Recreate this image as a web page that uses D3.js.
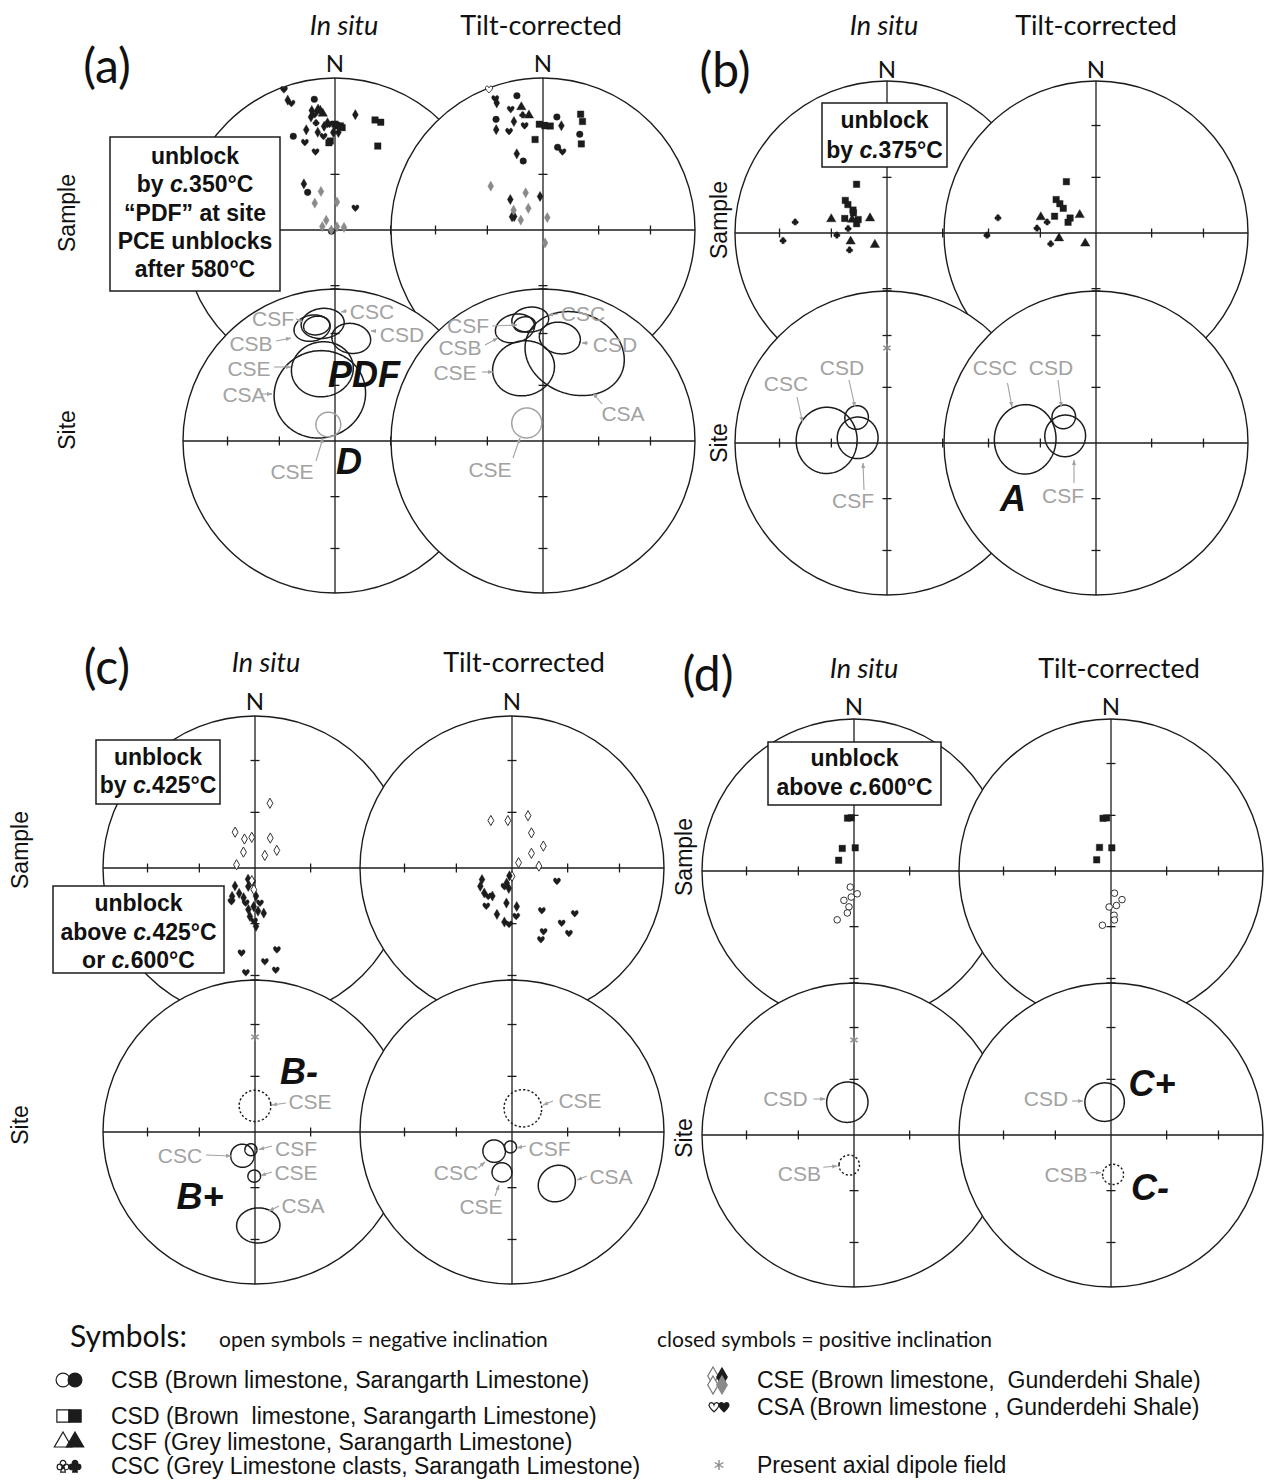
<!DOCTYPE html>
<html>
<head>
<meta charset="utf-8">
<script src="https://cdn.jsdelivr.net/npm/d3@7"></script>
<style>
  body { margin: 0; background: #fff; }
  svg { display: block; }
  text { white-space: pre; }
</style>
</head>
<body>
<svg id="fig" width="1271" height="1481"></svg>
<script>
// ---------------------------------------------------------------------------
// Palaeomagnetic directions, equal-area projections (lower/upper hemisphere
// folded together: open symbols = negative inclination).
// Sample rows: [collection, declination, inclination, tone]  ("g" = grey)
// Site rows:   [collection, declination, inclination, alpha95, tone]
// ---------------------------------------------------------------------------

const collections = ["CSB", "CSD", "CSF", "CSC", "CSE", "CSA"];
const columnTitles = ["In situ", "Tilt-corrected"];
const rowTitles = ["Sample", "Site"];
const panelTags = ["(a)", "(b)", "(c)", "(d)"];
const tickInclinations = [30, 60];
const gadDirection = [0, 37.5];   // present axial dipole field

// ---- panel (a) ----
const sampleA_insitu = [
  ["CSA",340,2],["CSE",340,10],["CSA",341,13],["CSB",351,14],["CSE",349,21],["CSF",352,21],
  ["CSF",353,22],["CSF",354,24],["CSA",350,24],["CSE",348,25],["CSC",350,29],["CSE",356,30],
  ["CSA",357,31],["CSE",354,32],["CSD",0,31],["CSD",1,32],["CSD",3,32],["CSD",4,33],
  ["CSE",359,36],["CSE",2,36],["CSE",350,35],["CSA",353,38],["CSD",357,41],["CSD",356,42],
  ["CSE",344,32],["CSA",341,39],["CSB",336,33],["CSA",346,46],["CSE",10,24],["CSD",20,24],
  ["CSD",23,24],["CSD",27,38],["CSE",326,60],["CSB",324,65],["CSA",43,74],["CSB",250,88],
  ["CSE",340,68,"g"],["CSE",323,72,"g"],["CSE",4,75,"g"],["CSE",318,83,"g"],["CSE",285,83,"g"],
  ["CSE",270,88,"g"],["CSE",31,88,"g"],["CSE",74,85,"g"]
];
const sampleA_tilt = [
  ["CSA",339,-1],["CSA",340,9],["CSE",340,12],["CSB",349,11],["CSA",345,19],["CSF",350,19],
  ["CSC",350,24],["CSF",353,25],["CSE",345,27],["CSA",350,31],["CSB",337,22],["CSE",335,28],
  ["CSA",341,32],["CSD",358,31],["CSD",1,32],["CSD",4,32],["CSB",7,26],["CSE",10,31],
  ["CSD",355,40],["CSD",18,21],["CSD",20,25],["CSB",21,33],["CSD",24,38],["CSB",10,44],
  ["CSA",14,46],["CSE",341,46],["CSB",344,51],["CSE",313,66],["CSE",295,73],["CSE",293,72],
  ["CSE",355,72],
  ["CSE",310,53,"g"],["CSE",335,68,"g"],["CSE",326,76,"g"],["CSE",304,71,"g"],["CSE",294,77,"g"],
  ["CSE",19,83,"g"],["CSE",171,83,"g"]
];
const siteA_insitu = [
  ["CSA",342,63,24],["CSE",350,50,15.6],["CSB",348.5,25,8.2],["CSC",354,23,9.6],
  ["CSF",351,24,5.9],["CSD",9,32,9.1],["CSE",338,80.5,6.6,"g"]
];
const siteA_tilt = [
  ["CSA",20,37.4,24.4],["CSE",345,48.6,15.6],["CSB",346,24.4,8.9],["CSC",354,20.6,8.1],
  ["CSF",351,23.3,4.8],["CSD",9.3,31.7,9.6],["CSE",318,77,8,"g"]
];

// ---- panel (b) ----
const sampleB_insitu = [
  ["CSD",328,59],["CSD",308,61.5],["CSD",306,64],["CSD",304,68],["CSD",301,69],["CSD",289,66],
  ["CSD",295,73],["CSD",287,73],
  ["CSF",284,59],["CSF",311,78],["CSF",291,70],["CSF",257,70],["CSF",226,81],
  ["CSC",277,69],["CSC",268,63],["CSC",246,68],["CSC",277,39],["CSC",266,32]
];
const sampleB_tilt = [
  ["CSD",330,58],["CSD",310,62],["CSD",309,65],["CSD",307,68],["CSD",292,66],["CSD",300,74],
  ["CSD",291,74],
  ["CSF",318,77],["CSF",286,59],["CSF",262,70],["CSF",226,82],
  ["CSC",283,63],["CSC",275,58],["CSC",257,65],["CSC",279,35],["CSC",269,29]
];
const siteB_insitu = [["CSC",272.5,57,17],["CSD",310,68.7,6.3],["CSF",280,74,11]];
const siteB_tilt = [["CSC",273,51,17.5],["CSD",309,67.7,6.3],["CSF",283,73,11]];

// ---- panel (c) ----
const sampleC_insitu = [
  ["CSE",13,-54],["CSE",331,-68],["CSE",340,-73.5],["CSE",354,-73.5],["CSE",324,-79.5],
  ["CSE",280,-80],["CSE",27,-72],["CSE",38,-81.5],["CSE",51,-75],
  ["CSE",228,75.6],["CSE",219,70.5],["CSA",215,68],["CSE",212,74],["CSE",201,73],["CSA",195,70.6],
  ["CSE",189,67.4],["CSE",182,69.3],["CSE",178,75],["CSE",183,-78.4],["CSA",192,82],["CSE",200,79.5],
  ["CSA",172,71],["CSE",176,66.8],["CSE",169,65.3],["CSA",181,61.3],["CSE",179,58.5],["CSE",186,63.8],
  ["CSE",212,83],["CSE",194,-83],
  ["CSA",165,43.6],["CSA",189,42.8],["CSA",174,38],["CSA",168.5,32],["CSA",185,31.5]
];
const sampleC_tilt = [
  ["CSE",336,-62],["CSE",355,-64.4],["CSE",17,-60.5],["CSE",29,-68.5],["CSE",55,-69.5],
  ["CSE",53,-77],["CSE",51,-85.5],["CSE",86,-75.6],["CSE",180,-85.6],
  ["CSE",249,72.8],["CSE",240,70.4],["CSE",228,70],["CSA",220,70.2],["CSE",215,71.7],["CSA",214,65.3],
  ["CSE",198,63.8],["CSE",188,60.6],["CSA",183,59.6],["CSE",199.5,81.5],["CSE",189,79],["CSA",202,79.3],
  ["CSE",198,85.6],["CSE",189,71],["CSE",173,69.2],["CSA",175,63.9],
  ["CSA",106.5,64.8],["CSA",145,62],["CSA",126,47.7],["CSA",138,49.6],["CSA",153.6,51.4],
  ["CSA",139,42.4],["CSA",158,47.9]
];
const siteC_insitu = [
  ["CSE",0,-76,8.4],["CSF",193,80.3,3.2],["CSC",208,75.6,6.2],["CSE",181,66.3,3.3],["CSA",178,38.2,10.4]
];
const siteC_tilt = [
  ["CSE",24.6,-76,10],["CSF",186,82,3.2],["CSC",223,76,6],["CSE",194,67.7,5.2],["CSA",139,52.8,9.8]
];

// ---- panel (d) ----
const sampleD_insitu = [
  ["CSD",353,61.3],["CSD",357,61.3],["CSD",332.5,76.4],["CSD",3,77.6],["CSD",305,80],
  ["CSB",193,-81.2],["CSB",172,-77.7],["CSB",186,-76],["CSB",199,-73.4],["CSB",188,-70.6],
  ["CSB",189,-67.2],["CSB",199,-62.2]
];
const sampleD_tilt = [
  ["CSD",351.4,61.3],["CSD",355.3,61.3],["CSD",334,76],["CSD",2,77.6],["CSD",308,80.3],
  ["CSB",171,-78],["CSB",159,-73.6],["CSB",171,-71.3],["CSB",183,-70.7],["CSB",176,-66.2],
  ["CSB",176,-63.6],["CSB",189,-60.4]
];
const siteD_insitu = [["CSD",348.5,72,10.9],["CSB",189,-73.7,5.4]];
const siteD_tilt = [["CSD",349,72,10.4],["CSB",177,-68.8,5.5]];

// ---- legend ----
const legendLeft = [
  ["CSB", "CSB (Brown limestone, Sarangarth Limestone)"],
  ["CSD", "CSD (Brown  limestone, Sarangarth Limestone)"],
  ["CSF", "CSF (Grey limestone, Sarangarth Limestone)"],
  ["CSC", "CSC (Grey Limestone clasts, Sarangath Limestone)"]
];
const legendRight = [
  ["CSE", "CSE (Brown limestone,  Gunderdehi Shale)"],
  ["CSA", "CSA (Brown limestone , Gunderdehi Shale)"]
];
const legendNotes = ["Symbols:", "open symbols = negative inclination", "closed symbols = positive inclination", "Present axial dipole field"];

// ---------------------------------------------------------------------------
// Layout
// ---------------------------------------------------------------------------
const R = 152;
const INK = "#1c1c1c";
const GREY_TXT = "#a2a2a2";
const GREY_PT = "#8a8a8a";
const TITLE_FONT = "Lato, 'Open Sans', sans-serif";
const ARIAL = "'Liberation Sans', Arial, sans-serif";

const panels = [
  { tag: [107, 64], headY: 24, headX: [344, 541], nY: 62, cx: [335, 543], cy: [230, 441],
    rowX: 67, rowY: [213, 430],
    samples: [sampleA_insitu, sampleA_tilt], sites: [siteA_insitu, siteA_tilt], gad: false,
    notes: [
      [["CSF",-62,-123,-39,-122,-32,-119],["CSB",-84,-98,-59,-100,-44,-103],["CSC",37,-130,12,-130,6,-129],
       ["CSD",67,-107,41,-110,36,-110],["CSE",-86,-73,-61,-74,-44,-74],["CSA",-91,-47,-73,-47,-63,-47],
       ["CSE",-43,30,-19,20,-12,-3]],
      [["CSF",-75,-116,-51,-115,-26,-116],["CSB",-83,-94,-58,-96,-45,-103],["CSE",-88,-69,-61,-69,-50,-69],
       ["CSC",40,-128,15,-127,5,-126],["CSD",72,-97,45,-98,39,-98],["CSA",80,-28,59,-37,50,-48],
       ["CSE",-53,28,-30,17,-23,-3]]
    ],
    big: [[["PDF",29,-67],["D",14,20]], []] },
  { tag: [725, 68], headY: 24, headX: [884, 1096], nY: 68, cx: [887, 1096], cy: [233, 443],
    rowX: 719, rowY: [220, 443],
    samples: [sampleB_insitu, sampleB_tilt], sites: [siteB_insitu, siteB_tilt], gad: true,
    notes: [
      [["CSD",-45,-76,-38,-63,-32,-36],["CSC",-101,-60,-90,-46,-84.5,-21],["CSF",-34,57,-23,47,-24,20]],
      [["CSC",-101,-76,-88.5,-60,-84,-36],["CSD",-45,-76,-38,-63,-34.5,-36],["CSF",-33,52,-22,40,-22,17]]
    ],
    big: [[], [["A",-83,55]]] },
  { tag: [107, 665], headY: 661, headX: [266, 524], nY: 700, cx: [255, 512], cy: [868, 1132],
    rowX: 20, rowY: [850, 1125],
    samples: [sampleC_insitu, sampleC_tilt], sites: [siteC_insitu, siteC_tilt], gad: true,
    notes: [
      [["CSE",55,-31,31,-29,17,-27],["CSC",-75,23,-49,23,-24,24],["CSF",41,16,17,14,4,17.5],
       ["CSE",41,40,17,40,6,43.5],["CSA",48,73,24,74,14,79]],
      [["CSE",68,-32,41,-31,31,-27],["CSF",37.5,16,14,14,5,16],["CSC",-56,40,-34,36,-27,30],
       ["CSE",-31,74,-17,64,-13,53],["CSA",99,44,75,44,65,48]]
    ],
    big: [[["B-",44,-61],["B+",-55,64]], []] },
  { tag: [708, 672], headY: 667, headX: [864, 1119], nY: 705, cx: [854, 1111], cy: [871, 1135],
    rowX: 684, rowY: [857, 1138],
    samples: [sampleD_insitu, sampleD_tilt], sites: [siteD_insitu, siteD_tilt], gad: true,
    notes: [
      [["CSD",-68.5,-37,-40.6,-36,-28.7,-36],["CSB",-54.6,38,-30.7,32.3,-16.7,31]],
      [["CSD",-65,-37,-39,-34,-28.3,-34],["CSB",-45,39,-21,37.7,-10,37.7]]
    ],
    big: [[], [["C+",41,-52],["C-",39,52]]] }
];

const boxes = [
  { x: 110, y: 137, w: 170, h: 154, top: 19, step: 28.3,
    lines: ["unblock", "by |c.|350°C", "“PDF” at site", "PCE unblocks", "after 580°C"] },
  { x: 822, y: 103, w: 125, h: 64, top: 17, step: 30, lines: ["unblock", "by |c.|375°C"] },
  { x: 96, y: 740, w: 124, h: 64, top: 17, step: 28, lines: ["unblock", "by |c.|425°C"] },
  { x: 53, y: 886, w: 171, h: 87, top: 17, step: 28.5, lines: ["unblock", "above |c.|425°C", "or |c.|600°C"] },
  { x: 768, y: 742, w: 173, h: 63, top: 16, step: 29, lines: ["unblock", "above |c.|600°C"] }
];

// ---------------------------------------------------------------------------
// Symbols
// ---------------------------------------------------------------------------
const symbolHeart = {
  draw(ctx, size) {
    const s = Math.sqrt(size) * 0.55;
    ctx.moveTo(0, s);
    ctx.bezierCurveTo(-s * 0.35, s * 0.6, -s * 1.1, 0, -s * 1.0, -s * 0.45);
    ctx.bezierCurveTo(-s * 0.9, -s * 1.1, -s * 0.15, -s * 1.0, 0, -s * 0.45);
    ctx.bezierCurveTo(s * 0.15, -s * 1.0, s * 0.9, -s * 1.1, s * 1.0, -s * 0.45);
    ctx.bezierCurveTo(s * 1.1, 0, s * 0.35, s * 0.6, 0, s);
    ctx.closePath();
  }
};
const symbolClub = {
  draw(ctx, size) {
    const s = Math.sqrt(size) * 0.5, r = s * 0.46;
    [[0, -s * 0.45], [-s * 0.5, s * 0.15], [s * 0.5, s * 0.15]].forEach(([x, y]) => {
      ctx.moveTo(x + r, y);
      ctx.arc(x, y, r, 0, 2 * Math.PI);
    });
    ctx.moveTo(-s * 0.15, 0);
    ctx.lineTo(s * 0.15, 0);
    ctx.lineTo(s * 0.38, s);
    ctx.lineTo(-s * 0.38, s);
    ctx.closePath();
  }
};
const SHAPE = { CSB: d3.symbolCircle, CSD: d3.symbolSquare, CSF: d3.symbolTriangle,
                CSC: symbolClub, CSE: d3.symbolDiamond, CSA: symbolHeart };
const SIZE = { CSB: 34, CSD: 42, CSF: 38, CSC: 46, CSE: 30, CSA: 42 };
const asteriskType = d3.symbolAsterisk || d3.symbolCross;

// ---------------------------------------------------------------------------
// Drawing
// ---------------------------------------------------------------------------
const svg = d3.select("#fig");
svg.append("rect").attr("width", 1271).attr("height", 1481).attr("fill", "#fff");
svg.append("defs").append("marker")
  .attr("id", "arr").attr("viewBox", "0 0 8 8").attr("refX", 7.5).attr("refY", 4)
  .attr("markerWidth", 5).attr("markerHeight", 5).attr("orient", "auto")
  .append("path").attr("d", "M0,1 L8,4 L0,7 Z").attr("fill", GREY_TXT);

const lonOf = dec => 180 - dec;   // N up, declination clockwise
function makeProjection(cx, cy) {
  return d3.geoAzimuthalEqualArea()
    .rotate([0, -90])
    .scale(R / Math.SQRT2)
    .translate([cx, cy])
    .precision(0.05);
}

function drawNet(g, cx, cy, isSite) {
  const proj = makeProjection(cx, cy);
  g.append("circle").attr("cx", cx).attr("cy", cy).attr("r", R)
    .attr("fill", "#fff").attr("stroke", INK).attr("stroke-width", 1.4);
  [[0, 180], [270, 90]].forEach(([d1, d2]) => {
    const p1 = proj([lonOf(d1), 0]), p2 = proj([lonOf(d2), 0]);
    g.append("line").attr("x1", p1[0]).attr("y1", p1[1]).attr("x2", p2[0]).attr("y2", p2[1])
      .attr("stroke", INK).attr("stroke-width", 1.3);
  });
  const ticks = [];
  [0, 90, 180, 270].forEach(dec => tickInclinations.forEach(inc => ticks.push([dec, inc])));
  if (isSite) ticks.push([0, 0.01]);
  const TL = 4.5;
  g.selectAll(null).data(ticks).join("line")
    .each(function ([dec, inc]) {
      const [x, y] = proj([lonOf(dec), inc]);
      const horiz = dec % 180 === 0;
      d3.select(this)
        .attr("x1", horiz ? x - TL : x).attr("x2", horiz ? x + TL : x)
        .attr("y1", horiz ? y : y - TL).attr("y2", horiz ? y : y + TL);
    })
    .attr("stroke", INK).attr("stroke-width", 1.3);
  return proj;
}

function drawSamples(g, proj, rows) {
  g.selectAll(null).data(rows).join("path")
    .attr("transform", d => {
      const [x, y] = proj([lonOf(d[1]), Math.abs(d[2])]);
      return `translate(${x},${y})`;
    })
    .attr("d", d => d3.symbol(SHAPE[d[0]], SIZE[d[0]])())
    .attr("fill", d => d[3] === "g" ? GREY_PT : (d[2] < 0 ? "#fff" : INK))
    .attr("stroke", d => d[3] === "g" ? GREY_PT : INK)
    .attr("stroke-width", d => d[2] < 0 ? 0.9 : 0.4);
}

function drawCones(g, proj, rows) {
  const path = d3.geoPath(proj);
  g.selectAll(null).data(rows).join("path")
    .attr("d", d => path(d3.geoCircle().center([lonOf(d[1]), Math.abs(d[2])]).radius(d[3]).precision(2)()))
    .attr("fill", "none")
    .attr("stroke", d => d[4] === "g" ? GREY_TXT : INK)
    .attr("stroke-width", 1.5)
    .attr("stroke-dasharray", d => d[2] < 0 ? "2.2,2.2" : null);
}

function drawGad(g, proj) {
  const [x, y] = proj([lonOf(gadDirection[0]), gadDirection[1]]);
  g.append("path").attr("transform", `translate(${x},${y})`)
    .attr("d", d3.symbol(asteriskType, 50)())
    .attr("fill", "none").attr("stroke", GREY_PT).attr("stroke-width", 1.4);
}

function drawNotes(g, cx, cy, notes, big) {
  notes.forEach(([t, tx, ty, x1, y1, x2, y2]) => {
    g.append("line").attr("x1", cx + x1).attr("y1", cy + y1).attr("x2", cx + x2).attr("y2", cy + y2)
      .attr("stroke", GREY_TXT).attr("stroke-width", 1.1).attr("marker-end", "url(#arr)");
    g.append("text").attr("x", cx + tx).attr("y", cy + ty)
      .attr("text-anchor", "middle").attr("dominant-baseline", "central")
      .attr("font-family", ARIAL).attr("font-size", 21).attr("fill", GREY_TXT).text(t);
  });
  big.forEach(([t, tx, ty]) => {
    g.append("text").attr("x", cx + tx).attr("y", cy + ty)
      .attr("text-anchor", "middle").attr("dominant-baseline", "central")
      .attr("font-family", ARIAL).attr("font-size", 36).attr("font-weight", "bold")
      .attr("font-style", "italic").attr("fill", "#111").text(t);
  });
}

panels.forEach((p, pi) => {
  const pg = svg.append("g");
  // sample row, then site row; tilt-corrected net over the in situ net
  p.cx.forEach((cx, i) => {
    const g = pg.append("g");
    const proj = drawNet(g, cx, p.cy[0], false);
    drawSamples(g, proj, p.samples[i]);
  });
  p.cx.forEach((cx, i) => {
    const g = pg.append("g");
    const proj = drawNet(g, cx, p.cy[1], true);
    if (i === 0 && p.gad) drawGad(g, proj);
    drawCones(g, proj, p.sites[i]);
  });
  p.cx.forEach((cx, i) => drawNotes(pg.append("g"), cx, p.cy[1], p.notes[i], p.big[i]));

  // titles
  pg.append("text").attr("x", p.tag[0]).attr("y", p.tag[1])
    .attr("text-anchor", "middle").attr("dominant-baseline", "central")
    .attr("font-family", TITLE_FONT).attr("font-size", 48).attr("fill", "#111").text(panelTags[pi]);
  columnTitles.forEach((t, i) => {
    pg.append("text").attr("x", p.headX[i]).attr("y", p.headY)
      .attr("text-anchor", "middle").attr("dominant-baseline", "central")
      .attr("font-family", TITLE_FONT).attr("font-size", 27)
      .attr("font-style", i === 0 ? "italic" : "normal").attr("fill", "#111").text(t);
    pg.append("text").attr("x", p.cx[i]).attr("y", p.nY)
      .attr("text-anchor", "middle").attr("dominant-baseline", "central")
      .attr("font-family", TITLE_FONT).attr("font-size", 24).attr("fill", "#111").text("N");
  });
  rowTitles.forEach((t, i) => {
    pg.append("text").attr("transform", `translate(${p.rowX},${p.rowY[i]}) rotate(-90)`)
      .attr("text-anchor", "middle").attr("dominant-baseline", "central")
      .attr("font-family", ARIAL).attr("font-size", 23).attr("fill", "#111").text(t);
  });
});

// annotation boxes
boxes.forEach(b => {
  const g = svg.append("g");
  g.append("rect").attr("x", b.x).attr("y", b.y).attr("width", b.w).attr("height", b.h)
    .attr("fill", "#fff").attr("stroke", INK).attr("stroke-width", 1.5);
  b.lines.forEach((ln, i) => {
    const t = g.append("text").attr("x", b.x + b.w / 2).attr("y", b.y + b.top + i * b.step)
      .attr("text-anchor", "middle").attr("dominant-baseline", "central")
      .attr("font-family", ARIAL).attr("font-size", 23).attr("font-weight", "bold").attr("fill", "#111");
    ln.split("|").forEach((seg, k) => t.append("tspan").attr("font-style", k % 2 ? "italic" : "normal").text(seg));
  });
});

// ---------------------------------------------------------------------------
// Legend
// ---------------------------------------------------------------------------
const lg = svg.append("g");
lg.append("text").attr("x", 70).attr("y", 1347).attr("font-family", TITLE_FONT)
  .attr("font-size", 30).attr("fill", "#111").text(legendNotes[0]);
lg.append("text").attr("x", 219).attr("y", 1347).attr("font-family", TITLE_FONT)
  .attr("font-size", 21).attr("fill", "#111").text(legendNotes[1]);
lg.append("text").attr("x", 657).attr("y", 1347).attr("font-family", TITLE_FONT)
  .attr("font-size", 21).attr("fill", "#111").text(legendNotes[2]);

function legendGlyph(g, x, y, code, fill, stroke, size) {
  g.append("path").attr("transform", `translate(${x},${y})`)
    .attr("d", d3.symbol(SHAPE[code], size)())
    .attr("fill", fill).attr("stroke", stroke).attr("stroke-width", 1.2);
}
const leftRowsY = [1380, 1416, 1442, 1466];
legendLeft.forEach(([code, label], i) => {
  const y = leftRowsY[i];
  const big = code === "CSF" ? 130 : 150;
  legendGlyph(lg, 63, y, code, "#fff", INK, big);
  legendGlyph(lg, 75, y, code, INK, INK, big);
  lg.append("text").attr("x", 111).attr("y", y).attr("dominant-baseline", "central")
    .attr("font-family", ARIAL).attr("font-size", 23).attr("fill", "#111").text(label);
});
const rightRowsY = [1380, 1407];
legendRight.forEach(([code, label], i) => {
  const y = rightRowsY[i];
  if (code === "CSE") {
    legendGlyph(lg, 713, y - 4, code, "#fff", "#777", 95);
    legendGlyph(lg, 713, y + 5, code, "#fff", "#777", 95);
    legendGlyph(lg, 722, y - 3, code, INK, INK, 95);
    legendGlyph(lg, 722, y + 5, code, GREY_PT, GREY_PT, 95);
  } else {
    legendGlyph(lg, 714, y, code, "#fff", INK, 80);
    legendGlyph(lg, 724, y, code, INK, INK, 80);
  }
  lg.append("text").attr("x", 757).attr("y", y).attr("dominant-baseline", "central")
    .attr("font-family", ARIAL).attr("font-size", 23).attr("fill", "#111").text(label);
});
lg.append("path").attr("transform", "translate(719,1465)")
  .attr("d", d3.symbol(asteriskType, 70)())
  .attr("fill", "none").attr("stroke", GREY_PT).attr("stroke-width", 1.4);
lg.append("text").attr("x", 757).attr("y", 1465).attr("dominant-baseline", "central")
  .attr("font-family", ARIAL).attr("font-size", 23).attr("fill", "#111").text(legendNotes[3]);
</script>
</body>
</html>
